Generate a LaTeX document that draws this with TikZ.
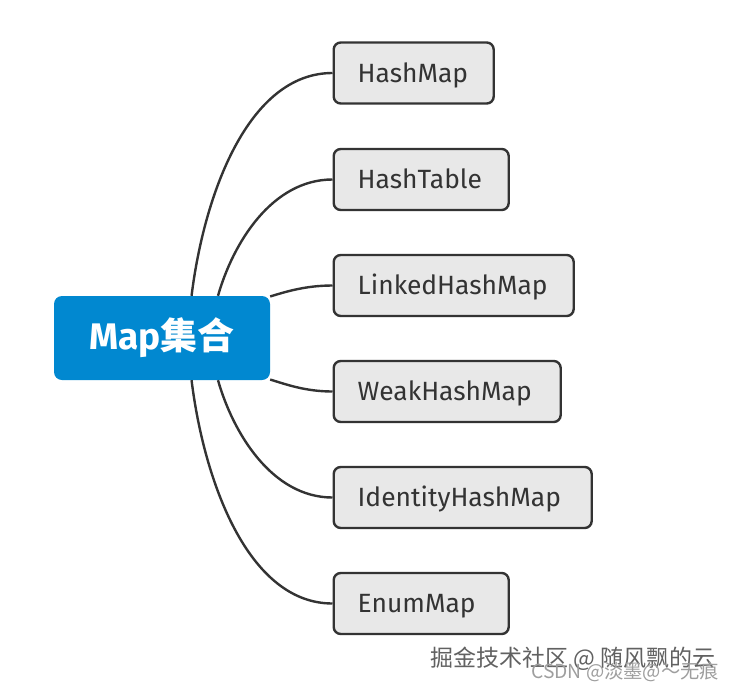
\documentclass[tikz,border=0pt]{standalone}
\usepackage{fontspec}
\setmainfont{Fira Sans}
\newfontfamily\cjkfont{Noto Sans CJK SC}
\usetikzlibrary{positioning,calc}
\definecolor{rootblue}{RGB}{1,136,208}
\definecolor{boxgray}{RGB}{232,232,232}
\definecolor{linkgray}{RGB}{51,51,51}
\tikzset{
  mapbox/.style={draw=linkgray,line width=2.4pt,fill=boxgray,rounded corners=7pt,anchor=west,minimum height=61pt,inner xsep=24pt,align=left,text height=21pt,text depth=3pt,text=linkgray,font=\fontsize{26.4}{30}\selectfont},
  maproot/.style={fill=rootblue,rounded corners=8pt,text=white,minimum width=216pt,minimum height=84pt,font=\fontsize{37}{42}\selectfont\bfseries},
  maplink/.style={draw=linkgray,line width=2.4pt},
  wmark/.style={anchor=west,inner sep=0pt}
}
\begin{document}
\begin{tikzpicture}[x=1pt,y=-1pt]
\useasboundingbox (0,0) rectangle (733,691);
\node[maproot] (root) at (162,338) {Map{\cjkfont\bfseries 集合}};
\node[mapbox,text width=112pt] (hashmap) at (332.5,73) {HashMap};
\node[mapbox,text width=127pt] (hashtable) at (332.5,179.5) {HashTable};
\node[mapbox,text width=192pt] (linked) at (332.5,285.5) {LinkedHashMap};
\node[mapbox,text width=179pt] (weak) at (332.5,391.5) {WeakHashMap};
\node[mapbox,text width=210pt] (identity) at (332.5,497.5) {IdentityHashMap};
\node[mapbox,text width=127pt] (enum) at (332.5,603.5) {EnumMap};
\path[maplink] (root.55) .. controls (204,195) and (248,73) .. (hashmap.west);
\path[maplink] (root.37) .. controls (233,243) and (272,179.5) .. (hashtable.west);
\path[maplink] (root.21) .. controls (285,292) and (305,285.5) .. (linked.west);
\path[maplink] (root.-21) .. controls (285,384) and (305,391.5) .. (weak.west);
\path[maplink] (root.-37) .. controls (233,433) and (272,497.5) .. (identity.west);
\path[maplink] (root.-55) .. controls (204,481) and (248,603.5) .. (enum.west);
\node[wmark,text=black!62,font=\fontsize{23}{27}\selectfont\cjkfont] (juejin) at (430,658.5) {掘金技术社区 @ 随风飘的云};
\node[wmark,text=black!38,font=\fontsize{19.3}{23}\selectfont\cjkfont] (csdn) at (531,672.5) {CSDN @淡墨@～无痕};
\end{tikzpicture}
\end{document}
